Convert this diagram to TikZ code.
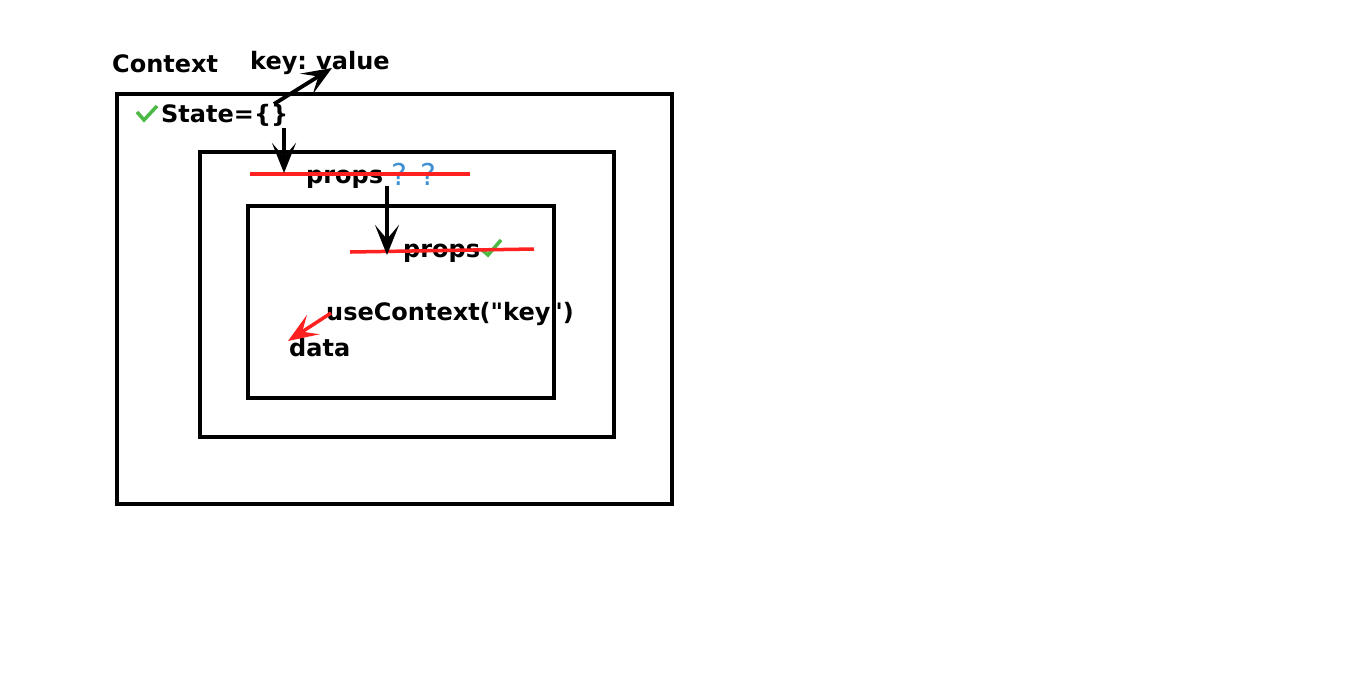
\documentclass[tikz,border=0pt]{standalone}
\usepackage{fontspec}
\setmainfont{DejaVu Sans}[Ligatures=TeXOff]
\usetikzlibrary{arrows.meta}
\definecolor{okgreen}{HTML}{4CB944}
\definecolor{strike}{HTML}{FF2020}
\definecolor{qblue}{HTML}{3F8FD2}
\begin{document}
\begin{tikzpicture}[x=1pt,y=-1pt,
  frame/.style={draw=black,line width=3.5pt},
  lbl/.style={inner sep=0pt,anchor=base west,font=\fontsize{24}{28}\selectfont\bfseries},
  qm/.style={inner sep=0pt,anchor=base,text=qblue,font=\fontsize{30}{34}\selectfont},
  tick/.style={draw=okgreen,line width=3.5pt,line join=miter},
  strk/.style={draw=strike,line width=3.5pt},
  blk/.style={draw=black,line width=3.8pt,-{Stealth[length=30pt,width=24pt,inset=14pt]}},
  redarr/.style={draw=strike,line width=3.5pt,-{Stealth[length=30pt,width=23pt,inset=13pt]}}]
\useasboundingbox (0,0) rectangle (1366,697);
\fill[white] (0,0) rectangle (1366,697);
% frames
\draw[frame] (117,94) rectangle (672,504);
\draw[frame] (200,152) rectangle (614,437);
\draw[frame] (248,206) rectangle (554,398);
% texts
\node[lbl] (ctx) at (112,72) {Context};
\node[lbl] (kv) at (250,69) {key:\hspace{-2pt} value};
\node[lbl] (state) at (161,122) {State=\{\}};
\node[lbl] (props1) at (306,183) {props};
\node[qm] (q1) at (399,185) {?};
\node[qm] (q2) at (428,185) {?};
\node[lbl] (props2) at (403,257) {props};
\node[lbl] (use) at (326,320) {useContext("key")};
\node[lbl] (data) at (289,356) {data};
% ticks
\draw[tick] (137,112) -- (144,120) -- (157,106);
\draw[tick] (481,249) -- (488,255) -- (501,240);
% strike lines
\draw[strk] (250,174) -- (470,174);
\draw[strk] (350,252) -- (534,249);
% arrows
\coordinate (s1) at (274,104);
\coordinate (e1) at (332,68);
\coordinate (s2) at (284,128);
\coordinate (e2) at (284,173);
\coordinate (s3) at (387,186);
\coordinate (e3) at (387,255);
\coordinate (s4) at (331,313);
\coordinate (e4) at (288,341);
\draw[blk] (s1) -- (e1);
\draw[blk] (s2) -- (e2);
\draw[blk] (s3) -- (e3);
\draw[redarr] (s4) -- (e4);
\end{tikzpicture}
\end{document}
